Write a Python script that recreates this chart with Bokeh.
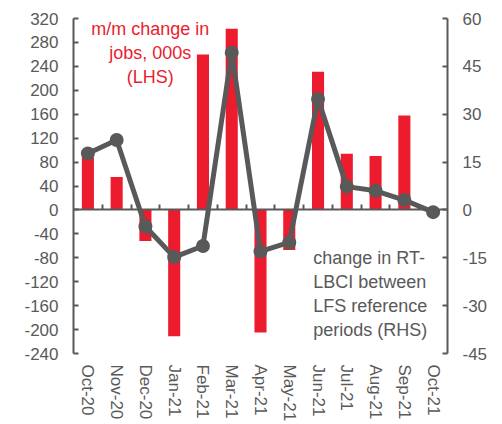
from bokeh.plotting import figure
from bokeh.models import Range1d, LinearAxis, FixedTicker, Label
from bokeh.embed import file_html
from bokeh.resources import INLINE

months = ["Oct-20", "Nov-20", "Dec-20", "Jan-21", "Feb-21", "Mar-21", "Apr-21",
          "May-21", "Jun-21", "Jul-21", "Aug-21", "Sep-21", "Oct-21"]
jobs = [88, 55, -52, -211, 260, 303, -205, -67, 231, 94, 90, 158, 0]
lbci = [17.7, 21.9, -5.2, -14.8, -11.3, 49.3, -13.0, -10.2, 34.8, 7.3, 6.0, 3.1, -0.7]
left_ticks = [-240, -200, -160, -120, -80, -40, 0, 40, 80, 120, 160, 200, 240, 280, 320]
right_ticks = [-45, -30, -15, 0, 15, 30, 45, 60]

RED = "#EC1C2E"
GREY = "#595959"
FONT = "Liberation Sans"

x = list(range(len(months)))
bounds = [i + 0.5 for i in x[:-1]]

p = figure(width=502, height=424, output_backend="svg", toolbar_location=None,
           x_range=Range1d(-0.5, len(months) - 0.5),
           y_range=Range1d(left_ticks[0], left_ticks[-1]),
           x_axis_location=None, y_axis_location=None,
           min_border_left=73, min_border_right=55, min_border_top=18, min_border_bottom=70)
p.outline_line_color = None
p.xgrid.visible = False
p.ygrid.visible = False
p.background_fill_color = "white"
p.extra_y_ranges = {"rhs": Range1d(right_ticks[0], right_ticks[-1])}


def style(ax, size="17px"):
    ax.axis_line_color = GREY
    ax.axis_line_width = 2
    ax.major_tick_line_color = GREY
    ax.major_tick_line_width = 2
    ax.major_tick_in = 5
    ax.major_tick_out = 0
    ax.minor_tick_line_color = None
    ax.major_label_text_color = GREY
    ax.major_label_text_font = FONT
    ax.major_label_text_font_size = size


ly = LinearAxis(ticker=FixedTicker(ticks=left_ticks),
                major_label_overrides={t: str(t) for t in left_ticks})
style(ly)
ly.major_label_standoff = 15
p.add_layout(ly, "left")

ry = LinearAxis(ticker=FixedTicker(ticks=right_ticks), y_range_name="rhs",
                major_label_overrides={t: str(t) for t in right_ticks})
style(ry)
ry.major_label_standoff = 15
p.add_layout(ry, "right")

# category labels along the bottom
lx = LinearAxis(ticker=FixedTicker(ticks=x),
                major_label_overrides={i: m for i, m in zip(x, months)})
style(lx)
lx.axis_line_color = None
lx.major_tick_line_color = None
lx.major_label_orientation = "vertical"
lx.major_label_standoff = 11
p.add_layout(lx, "below")

# zero line axis with category boundary ticks
zx = LinearAxis(ticker=FixedTicker(ticks=bounds), fixed_location=0,
                major_label_overrides={b: "" for b in bounds})
style(zx)
zx.major_label_standoff = 0
p.add_layout(zx, "below")

p.vbar(x=x, top=jobs, bottom=0, width=0.42, fill_color=RED, line_color=None)

p.line(x=x, y=lbci, y_range_name="rhs", line_color=GREY, line_width=5, line_join="round")
p.scatter(x=x, y=lbci, y_range_name="rhs", size=14, fill_color=GREY, line_color=None)

p.add_layout(Label(x=2.17, y=320, text="m/m change in\njobs, 000s\n(LHS)",
                   text_align="center", text_baseline="top", text_color=RED,
                   text_font=FONT, text_font_size="18px"))
p.add_layout(Label(x=7.83, y=-12, y_range_name="rhs",
                   text="change in RT-\nLBCI between\nLFS reference\nperiods (RHS)",
                   text_align="left", text_baseline="top", text_color=GREY,
                   text_font=FONT, text_font_size="18px"))

open("out.html", "w").write(file_html(p, INLINE))
